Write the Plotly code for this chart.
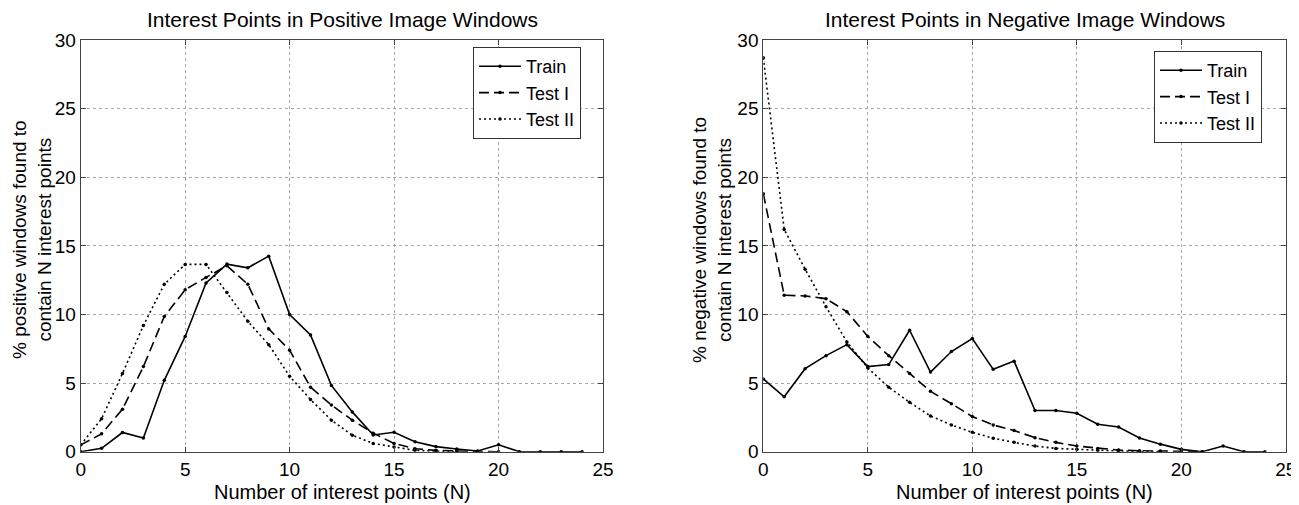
import plotly.graph_objects as go

# ---- data ----
n_pos_train = list(range(0, 25))
pos_train = [0.0, 0.25, 1.4, 1.0, 5.2, 8.4, 12.3, 13.67, 13.4, 14.25, 10.0, 8.5, 4.83, 2.9, 1.22,
             1.42, 0.73, 0.37, 0.2, 0.05, 0.5, 0.0, 0.0, 0.0, 0.0]
n_pos_test1 = list(range(0, 21))
pos_test1 = [0.5, 1.3, 3.1, 6.2, 9.85, 11.8, 12.7, 13.55, 12.2, 8.95, 7.4, 4.7, 3.4, 2.3, 1.35,
             0.6, 0.22, 0.1, 0.05, 0.02, 0.0]
n_pos_test2 = list(range(0, 19))
pos_test2 = [0.5, 2.4, 5.7, 9.2, 12.2, 13.65, 13.65, 11.6, 9.5, 7.8, 5.5, 3.8, 2.3, 1.2, 0.6,
             0.35, 0.1, 0.04, 0.0]

n_neg_train = list(range(0, 25))
neg_train = [5.3, 4.0, 6.05, 7.0, 7.8, 6.2, 6.35, 8.85, 5.8, 7.3, 8.25, 6.0, 6.6, 3.0, 3.0,
             2.8, 2.0, 1.8, 1.0, 0.55, 0.17, 0.0, 0.41, 0.0, 0.0]
n_neg_test1 = list(range(0, 22))
neg_test1 = [18.8, 11.4, 11.35, 11.15, 10.2, 8.4, 7.0, 5.7, 4.4, 3.5, 2.56, 1.95, 1.54, 1.02, 0.68,
             0.41, 0.24, 0.12, 0.07, 0.05, 0.02, 0.0]
n_neg_test2 = list(range(0, 20))
neg_test2 = [28.7, 16.2, 13.3, 10.56, 8.0, 6.1, 4.7, 3.6, 2.6, 1.95, 1.41, 0.98, 0.68, 0.41, 0.24,
             0.17, 0.1, 0.05, 0.02, 0.0]

series_names = ["Train", "Test I", "Test II"]
dashes = ["solid", "10px,5px", "2px,3px"]
x_ticks = [0, 5, 10, 15, 20, 25]
y_ticks = [0, 5, 10, 15, 20, 25, 30]

FONT = "Liberation Sans, Arial, sans-serif"

# The page body has an 8px margin; figure size is chosen so it fits the 1299x505 window.
W, H = 1291, 497
OFF = 8


def px(xp):
    return (xp - OFF) / W


def py(yp):
    return 1 - (yp - OFF) / H


fig = go.Figure()

panels = [
    ("x", "y", "legend", [(n_pos_train, pos_train), (n_pos_test1, pos_test1), (n_pos_test2, pos_test2)]),
    ("x2", "y2", "legend2", [(n_neg_train, neg_train), (n_neg_test1, neg_test1), (n_neg_test2, neg_test2)]),
]
for xa, ya, lg, data in panels:
    for (xs, ys), name, dash in zip(data, series_names, dashes):
        fig.add_trace(go.Scatter(
            x=xs, y=ys, name=name, mode="lines+markers", xaxis=xa, yaxis=ya, legend=lg,
            line=dict(color="black", width=1.6, dash=dash),
            marker=dict(color="black", size=3.5, symbol="circle"),
        ))

axis_common = dict(
    showline=True, linecolor="#444", linewidth=1, mirror="ticks",
    ticks="inside", ticklen=5, tickcolor="#444", automargin=False,
    showgrid=True, gridcolor="#a8a8a8", griddash="dot", gridwidth=1,
    zeroline=False, tickfont=dict(family=FONT, size=19, color="black"),
)

y_dom = [py(451.7), py(40)]
legend_common = dict(xanchor="left", yanchor="top", bgcolor="white",
                     bordercolor="#333", borderwidth=1, font=dict(family=FONT, size=18),
                     tracegroupgap=0, itemwidth=42)
fig.update_layout(
    width=W, height=H,
    margin=dict(l=0, r=0, t=0, b=0),
    paper_bgcolor="white", plot_bgcolor="white",
    font=dict(family=FONT, color="black"),
    xaxis=dict(domain=[px(80.7), px(603)], range=[0, 25], tickvals=x_ticks, anchor="y", **axis_common),
    yaxis=dict(domain=y_dom, range=[0, 30], tickvals=y_ticks, anchor="x", **axis_common),
    xaxis2=dict(domain=[px(763.3), px(1285.8)], range=[0, 25], tickvals=x_ticks, anchor="y2", **axis_common),
    yaxis2=dict(domain=y_dom, range=[0, 30], tickvals=y_ticks, anchor="x2", **axis_common),
    legend=dict(x=px(473), y=py(47), **legend_common),
    legend2=dict(x=px(1154), y=py(51), **legend_common),
    showlegend=True,
)

titles = [
    (px(342), "Interest Points in Positive Image Windows",
     "% positive windows found to<br>contain N interest points", px(32)),
    (px(1024.5), "Interest Points in Negative Image Windows",
     "% negative windows found to<br>contain N interest points", px(712)),
]
for cx, title, ytitle, yx in titles:
    fig.add_annotation(x=cx, y=py(19), xref="paper", yref="paper", text=title,
                       showarrow=False, font=dict(family=FONT, size=21, color="black"),
                       xanchor="center", yanchor="middle")
    fig.add_annotation(x=cx, y=py(492), xref="paper", yref="paper",
                       text="Number of interest points (N)", showarrow=False,
                       font=dict(family=FONT, size=20, color="black"),
                       xanchor="center", yanchor="middle")
    fig.add_annotation(x=yx, y=py(240), xref="paper", yref="paper", text=ytitle,
                       textangle=-90, showarrow=False,
                       font=dict(family=FONT, size=19, color="black"),
                       xanchor="center", yanchor="middle")

fig.write_html("out.html")
